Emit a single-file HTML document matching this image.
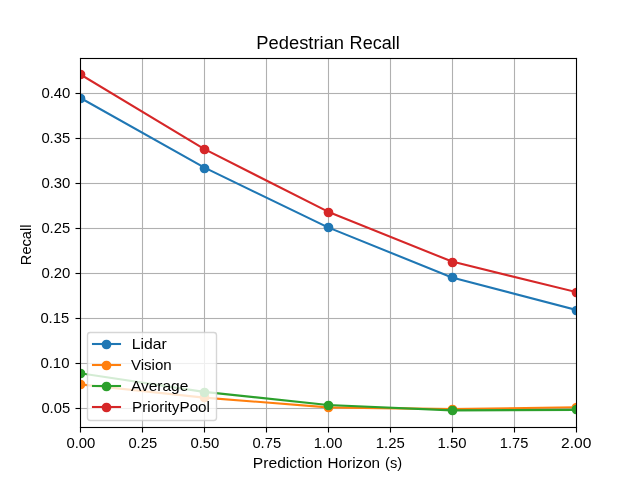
<!DOCTYPE html>
<html lang="en">
<head>
<meta charset="utf-8">
<title>Pedestrian Recall</title>
<style>
html,body{margin:0;padding:0;background:#fff;}
body{width:640px;height:480px;overflow:hidden;font-family:"Liberation Sans",sans-serif;}
svg{display:block;}
svg text{font-family:"Liberation Sans",sans-serif;fill:#000;}
.labels{will-change:opacity;} /* own layer -> greyscale text antialiasing */
.grid rect{fill:#b0b0b0;}
.ticks rect,.spines rect{fill:#000;}
.series polyline{fill:none;stroke-width:2.083;stroke-linejoin:round;stroke-linecap:square;}
</style>
</head>
<body>
<svg width="640" height="480" viewBox="0 0 640 480" role="img" aria-label="Line chart: Pedestrian Recall versus Prediction Horizon (s) for Lidar, Vision, Average and PriorityPool">
<defs><clipPath id="axclip"><rect x="80" y="58" width="496" height="369"/></clipPath></defs>
<rect x="0" y="0" width="640" height="480" fill="#ffffff"/>
<!-- grid lines (drawn as 0.8pt = 1.111px rects centred on pixel centres) -->
<g class="grid">
<rect x="141.9445" y="58" width="1.111" height="369.5"/>
<rect x="203.9445" y="58" width="1.111" height="369.5"/>
<rect x="265.9445" y="58" width="1.111" height="369.5"/>
<rect x="327.9445" y="58" width="1.111" height="369.5"/>
<rect x="389.9445" y="58" width="1.111" height="369.5"/>
<rect x="451.9445" y="58" width="1.111" height="369.5"/>
<rect x="513.9445" y="58" width="1.111" height="369.5"/>
<rect x="80.5" y="92.9445" width="496" height="1.111"/>
<rect x="80.5" y="137.9445" width="496" height="1.111"/>
<rect x="80.5" y="182.9445" width="496" height="1.111"/>
<rect x="80.5" y="227.9445" width="496" height="1.111"/>
<rect x="80.5" y="272.9445" width="496" height="1.111"/>
<rect x="80.5" y="317.9445" width="496" height="1.111"/>
<rect x="80.5" y="362.9445" width="496" height="1.111"/>
<rect x="80.5" y="407.9445" width="496" height="1.111"/>
</g>
<!-- axis tick marks -->
<g class="ticks">
<rect x="79.9445" y="427.5" width="1.111" height="5"/>
<rect x="141.9445" y="427.5" width="1.111" height="5"/>
<rect x="203.9445" y="427.5" width="1.111" height="5"/>
<rect x="265.9445" y="427.5" width="1.111" height="5"/>
<rect x="327.9445" y="427.5" width="1.111" height="5"/>
<rect x="389.9445" y="427.5" width="1.111" height="5"/>
<rect x="451.9445" y="427.5" width="1.111" height="5"/>
<rect x="513.9445" y="427.5" width="1.111" height="5"/>
<rect x="575.9445" y="427.5" width="1.111" height="5"/>
<rect x="75.5" y="92.9445" width="5" height="1.111"/>
<rect x="75.5" y="137.9445" width="5" height="1.111"/>
<rect x="75.5" y="182.9445" width="5" height="1.111"/>
<rect x="75.5" y="227.9445" width="5" height="1.111"/>
<rect x="75.5" y="272.9445" width="5" height="1.111"/>
<rect x="75.5" y="317.9445" width="5" height="1.111"/>
<rect x="75.5" y="362.9445" width="5" height="1.111"/>
<rect x="75.5" y="407.9445" width="5" height="1.111"/>
</g>
<!-- data series: Lidar, Vision, Average, PriorityPool (clipped to axes) -->
<g class="series" clip-path="url(#axclip)">
<g fill="#1f77b4" stroke="#1f77b4"><polyline points="80,97.78 204,167.43 328,227.39 452,277.49 576,309.90"/><circle cx="80.5" cy="98.5" r="4.86" stroke="none"/><circle cx="204.5" cy="168.5" r="4.86" stroke="none"/><circle cx="328.5" cy="227.5" r="4.86" stroke="none"/><circle cx="452.5" cy="277.5" r="4.86" stroke="none"/><circle cx="576.5" cy="310.5" r="4.86" stroke="none"/></g>
<g fill="#ff7f0e" stroke="#ff7f0e"><polyline points="80,384.39 204,397.60 328,407.35 452,409.14 576,407.25"/><circle cx="80.5" cy="384.5" r="4.86" stroke="none"/><circle cx="204.5" cy="397.5" r="4.86" stroke="none"/><circle cx="328.5" cy="407.5" r="4.86" stroke="none"/><circle cx="452.5" cy="409.5" r="4.86" stroke="none"/><circle cx="576.5" cy="407.5" r="4.86" stroke="none"/></g>
<g fill="#2ca02c" stroke="#2ca02c"><polyline points="80,373.23 204,391.90 328,404.95 452,410.40 576,409.86"/><circle cx="80.5" cy="373.5" r="4.86" stroke="none"/><circle cx="204.5" cy="392.5" r="4.86" stroke="none"/><circle cx="328.5" cy="405.5" r="4.86" stroke="none"/><circle cx="452.5" cy="410.5" r="4.86" stroke="none"/><circle cx="576.5" cy="409.5" r="4.86" stroke="none"/></g>
<g fill="#d62728" stroke="#d62728"><polyline points="80,74.18 204,148.93 328,211.69 452,261.58 576,292.01"/><circle cx="80.5" cy="74.5" r="4.86" stroke="none"/><circle cx="204.5" cy="149.5" r="4.86" stroke="none"/><circle cx="328.5" cy="212.5" r="4.86" stroke="none"/><circle cx="452.5" cy="262.5" r="4.86" stroke="none"/><circle cx="576.5" cy="292.5" r="4.86" stroke="none"/></g>
</g>
<!-- axes frame -->
<g class="spines">
<rect x="79.9445" y="57.9445" width="1.111" height="370.111"/>
<rect x="575.9445" y="57.9445" width="1.111" height="370.111"/>
<rect x="79.9445" y="57.9445" width="497.111" height="1.111"/>
<rect x="79.9445" y="426.9445" width="497.111" height="1.111"/>
</g>
<!-- legend -->
<g class="legend">
<rect x="87.5" y="332.5" width="129" height="88" rx="2.78" ry="2.78" fill="#ffffff" fill-opacity="0.8" stroke="#cccccc" stroke-opacity="0.8" stroke-width="1.389"/>
<line x1="91.96" y1="344" x2="121.04" y2="344" stroke="#1f77b4" stroke-width="2.083"/><circle cx="106.5" cy="344.5" r="4.86" fill="#1f77b4"/>
<line x1="91.96" y1="365" x2="121.04" y2="365" stroke="#ff7f0e" stroke-width="2.083"/><circle cx="106.5" cy="365.5" r="4.86" fill="#ff7f0e"/>
<line x1="91.96" y1="386" x2="121.04" y2="386" stroke="#2ca02c" stroke-width="2.083"/><circle cx="106.5" cy="386.5" r="4.86" fill="#2ca02c"/>
<line x1="91.96" y1="407" x2="121.04" y2="407" stroke="#d62728" stroke-width="2.083"/><circle cx="106.5" cy="407.5" r="4.86" fill="#d62728"/>
</g>
<!-- text: title, axis labels, tick labels, legend entries -->
<g class="labels">
<text y="49" font-size="17.5"><tspan x="256.3" textLength="87.77" lengthAdjust="spacingAndGlyphs">Pedestrian</tspan> <tspan x="349.64" textLength="50.22" lengthAdjust="spacingAndGlyphs">Recall</tspan></text>
<text y="468" font-size="14.5"><tspan x="252.82" textLength="69.53" lengthAdjust="spacingAndGlyphs">Prediction</tspan> <tspan x="327.59" textLength="52.51" lengthAdjust="spacingAndGlyphs">Horizon</tspan> <tspan x="385.08" textLength="17.09" lengthAdjust="spacingAndGlyphs">(s)</tspan></text>
<text transform="translate(31.4,265.15) rotate(-90)" font-size="14.5" textLength="40.6" lengthAdjust="spacingAndGlyphs">Recall</text>
<text x="66.4" y="448" font-size="14.5" textLength="29.0" lengthAdjust="spacingAndGlyphs">0.00</text>
<text x="128.4" y="448" font-size="14.5" textLength="28.7" lengthAdjust="spacingAndGlyphs">0.25</text>
<text x="190.4" y="448" font-size="14.5" textLength="29.0" lengthAdjust="spacingAndGlyphs">0.50</text>
<text x="252.4" y="448" font-size="14.5" textLength="28.7" lengthAdjust="spacingAndGlyphs">0.75</text>
<text x="313.8" y="448" font-size="14.5" textLength="28.7" lengthAdjust="spacingAndGlyphs">1.00</text>
<text x="375.7" y="448" font-size="14.5" textLength="29.1" lengthAdjust="spacingAndGlyphs">1.25</text>
<text x="437.6" y="448" font-size="14.5" textLength="28.9" lengthAdjust="spacingAndGlyphs">1.50</text>
<text x="499.8" y="448" font-size="14.5" textLength="28.5" lengthAdjust="spacingAndGlyphs">1.75</text>
<text x="561.1" y="448" font-size="14.5" textLength="30.3" lengthAdjust="spacingAndGlyphs">2.00</text>
<text x="41.4" y="98" font-size="14.5" textLength="29.0" lengthAdjust="spacingAndGlyphs">0.40</text>
<text x="41.4" y="143" font-size="14.5" textLength="28.8" lengthAdjust="spacingAndGlyphs">0.35</text>
<text x="41.4" y="188" font-size="14.5" textLength="29.0" lengthAdjust="spacingAndGlyphs">0.30</text>
<text x="41.4" y="233" font-size="14.5" textLength="28.7" lengthAdjust="spacingAndGlyphs">0.25</text>
<text x="41.4" y="278" font-size="14.5" textLength="29.0" lengthAdjust="spacingAndGlyphs">0.20</text>
<text x="40.4" y="323" font-size="14.5" textLength="28.8" lengthAdjust="spacingAndGlyphs">0.15</text>
<text x="40.4" y="368" font-size="14.5" textLength="29.1" lengthAdjust="spacingAndGlyphs">0.10</text>
<text x="41.4" y="413" font-size="14.5" textLength="28.7" lengthAdjust="spacingAndGlyphs">0.05</text>
<text x="131.7" y="349" font-size="14.5" textLength="35.0" lengthAdjust="spacingAndGlyphs">Lidar</text>
<text x="130.9" y="370" font-size="14.5" textLength="40.8" lengthAdjust="spacingAndGlyphs">Vision</text>
<text x="130.9" y="391" font-size="14.5" textLength="57.4" lengthAdjust="spacingAndGlyphs">Average</text>
<text x="132.0" y="412" font-size="14.5" textLength="78.0" lengthAdjust="spacingAndGlyphs">PriorityPool</text>
</g>
</svg>
</body>
</html>
